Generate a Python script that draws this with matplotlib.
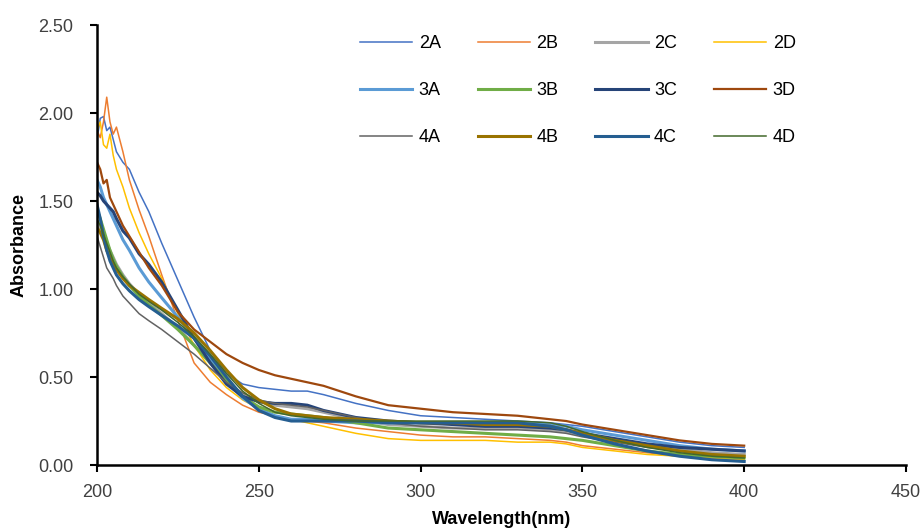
import matplotlib.pyplot as plt

plt.rcParams['font.family'] = ['Liberation Sans', 'DejaVu Sans']

# wavelength grid (nm)
wl = [200, 201, 202, 203, 204, 205, 206, 208, 210, 213, 216, 220, 225, 230, 235, 240,
      245, 250, 255, 260, 265, 270, 280, 290, 300, 310, 320, 330, 340, 345, 350, 360,
      370, 380, 390, 400]

# absorbance
a2A = [1.85, 1.97, 1.98, 1.90, 1.92, 1.85, 1.78, 1.72, 1.68, 1.55, 1.44, 1.26, 1.05, 0.84, 0.65, 0.52,
       0.46, 0.44, 0.43, 0.42, 0.42, 0.40, 0.35, 0.31, 0.28, 0.27, 0.26, 0.25, 0.24, 0.23, 0.22, 0.19,
       0.16, 0.13, 0.11, 0.10]
a2B = [1.90, 1.86, 1.95, 2.09, 1.95, 1.88, 1.92, 1.78, 1.62, 1.45, 1.30, 1.08, 0.82, 0.58, 0.47, 0.40,
       0.34, 0.30, 0.28, 0.26, 0.25, 0.24, 0.21, 0.19, 0.17, 0.16, 0.16, 0.15, 0.14, 0.13, 0.11, 0.09,
       0.07, 0.05, 0.04, 0.03]
a2C = [1.38, 1.35, 1.30, 1.26, 1.22, 1.18, 1.14, 1.08, 1.03, 0.97, 0.92, 0.86, 0.78, 0.68, 0.58, 0.48,
       0.40, 0.36, 0.34, 0.33, 0.32, 0.30, 0.26, 0.23, 0.22, 0.21, 0.21, 0.21, 0.20, 0.19, 0.17, 0.14,
       0.11, 0.09, 0.07, 0.06]
a2D = [1.90, 1.95, 1.82, 1.80, 1.88, 1.76, 1.68, 1.58, 1.46, 1.32, 1.20, 1.06, 0.86, 0.68, 0.54, 0.44,
       0.37, 0.32, 0.28, 0.26, 0.24, 0.22, 0.18, 0.15, 0.14, 0.14, 0.14, 0.13, 0.13, 0.12, 0.10, 0.08,
       0.06, 0.05, 0.04, 0.03]
a3A = [1.62, 1.58, 1.52, 1.48, 1.44, 1.40, 1.36, 1.28, 1.22, 1.12, 1.04, 0.95, 0.84, 0.72, 0.60, 0.48,
       0.38, 0.32, 0.28, 0.26, 0.26, 0.25, 0.24, 0.24, 0.24, 0.24, 0.24, 0.24, 0.23, 0.22, 0.20, 0.17,
       0.14, 0.11, 0.09, 0.08]
a3B = [1.45, 1.40, 1.34, 1.28, 1.22, 1.17, 1.13, 1.07, 1.02, 0.96, 0.91, 0.85, 0.77, 0.68, 0.58, 0.48,
       0.39, 0.33, 0.30, 0.29, 0.28, 0.27, 0.24, 0.21, 0.20, 0.19, 0.18, 0.17, 0.16, 0.15, 0.14, 0.11,
       0.08, 0.06, 0.05, 0.04]
a3C = [1.55, 1.53, 1.50, 1.48, 1.46, 1.44, 1.40, 1.33, 1.29, 1.20, 1.14, 1.04, 0.88, 0.72, 0.58, 0.46,
       0.39, 0.36, 0.35, 0.35, 0.34, 0.31, 0.27, 0.25, 0.24, 0.23, 0.22, 0.22, 0.21, 0.20, 0.18, 0.15,
       0.12, 0.10, 0.09, 0.08]
a3D = [1.72, 1.68, 1.60, 1.62, 1.52, 1.48, 1.44, 1.36, 1.30, 1.21, 1.12, 1.02, 0.87, 0.77, 0.70, 0.63,
       0.58, 0.54, 0.51, 0.49, 0.47, 0.45, 0.39, 0.34, 0.32, 0.30, 0.29, 0.28, 0.26, 0.25, 0.23, 0.20,
       0.17, 0.14, 0.12, 0.11]
a4A = [1.30, 1.24, 1.18, 1.12, 1.09, 1.06, 1.02, 0.96, 0.92, 0.86, 0.82, 0.77, 0.70, 0.63, 0.55, 0.47,
       0.41, 0.37, 0.35, 0.34, 0.33, 0.31, 0.27, 0.24, 0.22, 0.21, 0.20, 0.20, 0.19, 0.18, 0.16, 0.13,
       0.10, 0.08, 0.06, 0.05]
a4B = [1.35, 1.32, 1.28, 1.22, 1.18, 1.14, 1.11, 1.06, 1.02, 0.98, 0.94, 0.89, 0.83, 0.75, 0.65, 0.54,
       0.44, 0.37, 0.32, 0.29, 0.28, 0.27, 0.26, 0.25, 0.24, 0.24, 0.23, 0.23, 0.22, 0.20, 0.18, 0.14,
       0.11, 0.08, 0.06, 0.05]
a4C = [1.48, 1.40, 1.30, 1.22, 1.16, 1.12, 1.08, 1.03, 0.99, 0.94, 0.90, 0.85, 0.79, 0.72, 0.62, 0.50,
       0.39, 0.31, 0.27, 0.25, 0.25, 0.25, 0.25, 0.24, 0.24, 0.24, 0.24, 0.24, 0.22, 0.20, 0.17, 0.12,
       0.08, 0.05, 0.03, 0.02]
a4D = [1.40, 1.36, 1.31, 1.26, 1.21, 1.16, 1.12, 1.07, 1.03, 0.97, 0.93, 0.88, 0.81, 0.73, 0.63, 0.52,
       0.42, 0.35, 0.30, 0.28, 0.27, 0.26, 0.25, 0.25, 0.25, 0.25, 0.25, 0.25, 0.24, 0.22, 0.19, 0.14,
       0.10, 0.07, 0.05, 0.04]

names = ['2A', '2B', '2C', '2D', '3A', '3B', '3C', '3D', '4A', '4B', '4C', '4D']
series = [a2A, a2B, a2C, a2D, a3A, a3B, a3C, a3D, a4A, a4B, a4C, a4D]
colors = ['#4472C4', '#ED7D31', '#A5A5A5', '#FFC000', '#5B9BD5', '#70AD47',
          '#264478', '#9E480E', '#636363', '#997300', '#255E91', '#43682B']
widths = [1.1, 1.1, 2.2, 1.1, 2.2, 2.2, 2.2, 1.6, 1.1, 2.2, 2.2, 1.1]

fig = plt.figure(figsize=(9.24, 5.30), dpi=100)
ax = fig.add_axes([0.105, 0.1226, 0.8755, 0.8302])

for nm, ys, c, w in zip(names, series, colors, widths):
    ax.plot(wl, ys, color=c, lw=w, label=nm)

ax.set_xlim(200, 450)
ax.set_ylim(0, 2.5)
ax.set_xticks([200, 250, 300, 350, 400, 450])
ax.set_yticks([0, 0.5, 1.0, 1.5, 2.0, 2.5])
ax.set_yticklabels(['0.00', '0.50', '1.00', '1.50', '2.00', '2.50'])
ax.tick_params(labelsize=13, labelcolor='#404040', color='black', length=5, width=1.5)
ax.tick_params(axis='y', pad=12)
ax.tick_params(axis='x', pad=9)
for s in ['top', 'right']:
    ax.spines[s].set_visible(False)
for s in ['left', 'bottom']:
    ax.spines[s].set_linewidth(1.8)
ax.set_xlabel('Wavelength(nm)', fontsize=13, fontweight='bold', labelpad=7)
ax.set_ylabel('Absorbance', fontsize=13, fontweight='bold', labelpad=8)

# legend is filled row by row in the original
h, l = ax.get_legend_handles_labels()
order = [0, 4, 8, 1, 5, 9, 2, 6, 10, 3, 7, 11]
ax.legend([h[i] for i in order], [l[i] for i in order], ncol=4, frameon=False, fontsize=13,
          loc='upper left', bbox_to_anchor=(360 / 924, 1 - 35 / 530), bbox_transform=fig.transFigure,
          handlelength=2.9, handletextpad=0.35, labelspacing=1.67, columnspacing=2.05,
          borderpad=0, borderaxespad=0)

fig.savefig('out.png', dpi=100)
